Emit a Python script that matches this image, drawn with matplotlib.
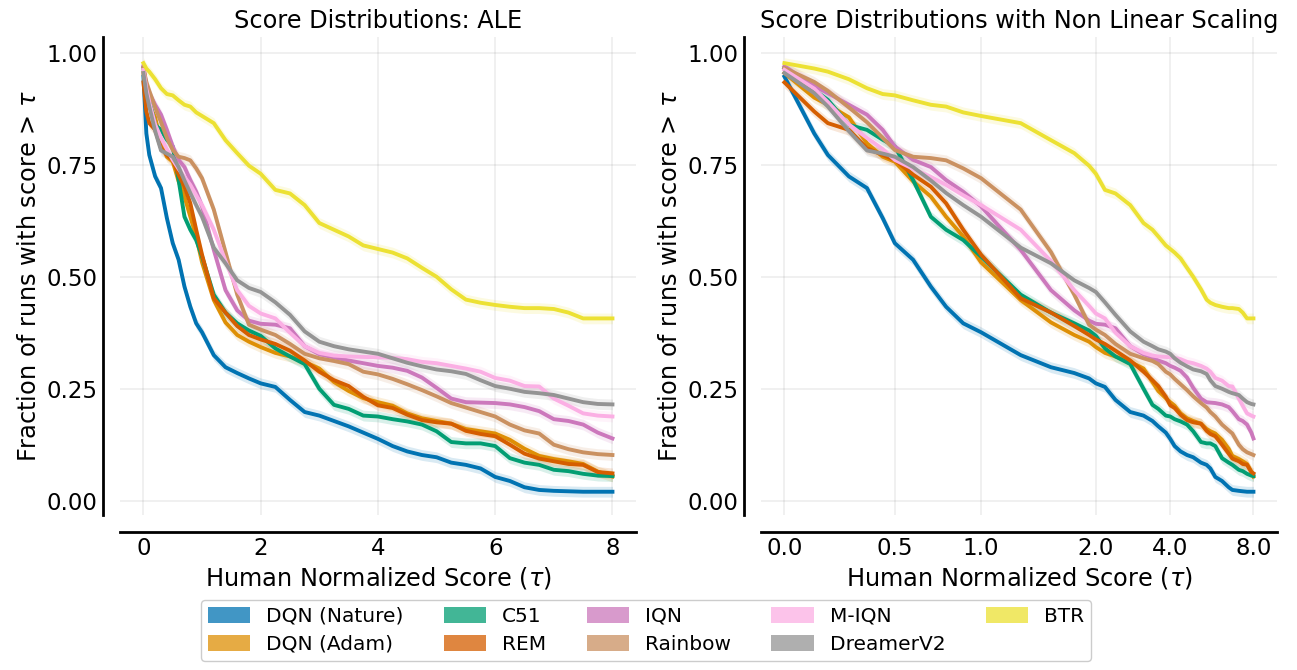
import numpy as np
import matplotlib.pyplot as plt
from matplotlib.patches import Patch

# Thresholds on the human normalized score
tau = np.array([0.0, 0.05, 0.1, 0.2, 0.3, 0.4, 0.5, 0.6, 0.7, 0.8, 0.9, 1.0,
                1.2, 1.4, 1.6, 1.8, 2.0, 2.25, 2.5, 2.75, 3.0, 3.25, 3.5, 3.75,
                4.0, 4.25, 4.5, 4.75, 5.0, 5.25, 5.5, 5.75, 6.0, 6.25, 6.5,
                6.75, 7.0, 7.25, 7.5, 7.75, 8.0])

# Fraction of runs with score > tau, one array per agent
dqn_nature = [0.947, 0.82, 0.772, 0.724, 0.698, 0.631, 0.575, 0.538, 0.478, 0.433, 0.396, 0.376,
              0.325, 0.298, 0.285, 0.273, 0.262, 0.254, 0.225, 0.198, 0.19, 0.178, 0.166, 0.152,
              0.138, 0.122, 0.11, 0.102, 0.097, 0.085, 0.08, 0.072, 0.053, 0.044, 0.03,
              0.024, 0.022, 0.021, 0.02, 0.02, 0.02]
dqn_adam = [0.955, 0.90, 0.884, 0.856, 0.798, 0.768, 0.757, 0.713, 0.679, 0.634, 0.59, 0.532,
            0.448, 0.398, 0.37, 0.355, 0.343, 0.33, 0.322, 0.31, 0.295, 0.265, 0.245, 0.229,
            0.22, 0.212, 0.195, 0.184, 0.178, 0.172, 0.16, 0.155, 0.15, 0.136, 0.116,
            0.10, 0.093, 0.088, 0.082, 0.065, 0.054]
c51 = [0.966, 0.917, 0.895, 0.839, 0.828, 0.806, 0.791, 0.716, 0.634, 0.605, 0.582, 0.545,
       0.46, 0.42, 0.396, 0.38, 0.368, 0.34, 0.322, 0.305, 0.25, 0.214, 0.205, 0.19,
       0.188, 0.182, 0.177, 0.17, 0.155, 0.131, 0.128, 0.128, 0.122, 0.095, 0.085,
       0.08, 0.069, 0.066, 0.06, 0.056, 0.055]
rem = [0.934, 0.869, 0.843, 0.828, 0.787, 0.772, 0.761, 0.728, 0.701, 0.664, 0.605, 0.549,
       0.452, 0.42, 0.39, 0.37, 0.36, 0.35, 0.335, 0.313, 0.288, 0.269, 0.256, 0.232,
       0.213, 0.207, 0.192, 0.18, 0.175, 0.172, 0.156, 0.149, 0.144, 0.125, 0.105,
       0.094, 0.088, 0.082, 0.08, 0.064, 0.061]
iqn = [0.97, 0.926, 0.91, 0.884, 0.862, 0.828, 0.791, 0.761, 0.745, 0.716, 0.69, 0.657,
       0.56, 0.47, 0.425, 0.402, 0.395, 0.393, 0.385, 0.345, 0.327, 0.32, 0.313, 0.307,
       0.301, 0.297, 0.29, 0.275, 0.252, 0.228, 0.22, 0.219, 0.218, 0.215, 0.209,
       0.2, 0.182, 0.178, 0.17, 0.152, 0.139]
rainbow = [0.966, 0.935, 0.915, 0.878, 0.845, 0.81, 0.783, 0.768, 0.765, 0.76, 0.742, 0.72,
           0.65, 0.555, 0.46, 0.393, 0.382, 0.37, 0.35, 0.328, 0.318, 0.312, 0.305, 0.288,
           0.282, 0.272, 0.26, 0.247, 0.233, 0.218, 0.208, 0.198, 0.188, 0.17, 0.157,
           0.15, 0.125, 0.115, 0.108, 0.104, 0.102]
m_iqn = [0.962, 0.92, 0.89, 0.84, 0.81, 0.785, 0.761, 0.741, 0.723, 0.705, 0.682, 0.66,
         0.605, 0.535, 0.47, 0.435, 0.418, 0.407, 0.375, 0.345, 0.33, 0.324, 0.322, 0.321,
         0.32, 0.319, 0.316, 0.31, 0.307, 0.301, 0.295, 0.288, 0.274, 0.268, 0.256,
         0.255, 0.228, 0.212, 0.195, 0.19, 0.188]
dreamer_v2 = [0.955, 0.91, 0.88, 0.825, 0.782, 0.775, 0.768, 0.745, 0.715, 0.687, 0.66, 0.634,
              0.565, 0.53, 0.492, 0.475, 0.466, 0.443, 0.415, 0.378, 0.355, 0.345, 0.338, 0.333,
              0.328, 0.318, 0.308, 0.3, 0.293, 0.289, 0.283, 0.269, 0.256, 0.25, 0.243,
              0.24, 0.236, 0.228, 0.22, 0.216, 0.215]
btr = [0.977, 0.965, 0.958, 0.941, 0.921, 0.908, 0.905, 0.894, 0.884, 0.88, 0.867, 0.859,
       0.843, 0.805, 0.776, 0.748, 0.73, 0.694, 0.686, 0.66, 0.62, 0.605, 0.59, 0.57,
       0.562, 0.554, 0.541, 0.52, 0.50, 0.472, 0.449, 0.442, 0.437, 0.433, 0.43,
       0.43, 0.428, 0.42, 0.407, 0.407, 0.407]

methods = ['DQN (Nature)', 'DQN (Adam)', 'C51', 'REM', 'IQN',
           'Rainbow', 'M-IQN', 'DreamerV2', 'BTR']
curves = [dqn_nature, dqn_adam, c51, rem, iqn, rainbow, m_iqn, dreamer_v2, btr]
colors = ['#0173b2', '#de8f05', '#029e73', '#d55e00', '#cc78bc',
          '#ca9161', '#fbafe4', '#949494', '#ece133']
band = 0.012  # half width of the confidence band

# Non linear x axis: position = pooled fraction of scores below tau
avg = np.mean(np.array(curves), axis=0)
warp = (avg[0] - avg) / (avg[0] - avg[-1])
warp = np.maximum.accumulate(warp) + np.linspace(0, 1e-6, len(warp))
slope_lo = (warp[1] - warp[0]) / (tau[1] - tau[0])
slope_hi = (warp[-1] - warp[-2]) / (tau[-1] - tau[-2])


def forward(x):
    x = np.asarray(x, dtype=float)
    y = np.interp(x, tau, warp)
    y = np.where(x < tau[0], warp[0] + (x - tau[0]) * slope_lo, y)
    y = np.where(x > tau[-1], warp[-1] + (x - tau[-1]) * slope_hi, y)
    return y


def inverse(y):
    y = np.asarray(y, dtype=float)
    x = np.interp(y, warp, tau)
    x = np.where(y < warp[0], tau[0] + (y - warp[0]) / slope_lo, x)
    x = np.where(y > warp[-1], tau[-1] + (y - warp[-1]) / slope_hi, x)
    return x


def decorate(ax):
    ax.spines['right'].set_visible(False)
    ax.spines['top'].set_visible(False)
    ax.spines['left'].set_linewidth(2)
    ax.spines['bottom'].set_linewidth(2)
    ax.spines['left'].set_position(('outward', 12.5))
    ax.spines['bottom'].set_position(('outward', 12))
    ax.tick_params(length=0.1, width=0.1, labelsize=16.5)
    ax.grid(True, color='0.5', alpha=0.14, linewidth=1.2)


def draw_profiles(ax):
    for name, vals, c in zip(methods, curves, colors):
        vals = np.asarray(vals)
        ax.fill_between(tau, np.clip(vals - band, 0, 1), np.clip(vals + band, 0, 1),
                        color=c, alpha=0.15, linewidth=0)
        ax.plot(tau, vals, color=c, linewidth=2.8, label=name)
    ax.set_ylim(-0.032, 1.036)
    ax.set_yticks([0, 0.25, 0.5, 0.75, 1.0])
    ax.set_yticklabels(['0.00', '0.25', '0.50', '0.75', '1.00'])
    ax.set_xlabel(r'Human Normalized Score ($\tau$)', fontsize=17.3)
    ax.set_ylabel(r'Fraction of runs with score > $\tau$', fontsize=17.3)
    decorate(ax)


fig = plt.figure(figsize=(12.97, 6.70), dpi=100)
ax1 = fig.add_axes([0.0925, 0.2313, 0.3978, 0.7139])
ax2 = fig.add_axes([0.5867, 0.2313, 0.3978, 0.7139])

draw_profiles(ax1)
ax1.set_xlim(-0.4, 8.4)
ax1.set_xticks([0, 2, 4, 6, 8])
ax1.set_title('Score Distributions: ALE', fontsize=17.3)

ax2.set_xscale('function', functions=(forward, inverse))
draw_profiles(ax2)
ax2.set_xlim(float(inverse(-0.05)), float(inverse(1.05)))
ax2.set_xticks([0, 0.5, 1, 2, 4, 8])
ax2.set_xticklabels(['0.0', '0.5', '1.0', '2.0', '4.0', '8.0'])
ax2.set_title('Score Distributions with Non Linear Scaling', fontsize=17.3)

handles = [Patch(facecolor=c, alpha=0.75, label=m) for m, c in zip(methods, colors)]
fig.legend(handles=handles, loc='upper center', bbox_to_anchor=(0.498, 0.12),
           ncol=5, fontsize=14.5, handlelength=2.1, handleheight=0.85,
           labelspacing=0.45, borderpad=0.35, fancybox=True, framealpha=1.0)

fig.savefig('out.png', dpi=100)
